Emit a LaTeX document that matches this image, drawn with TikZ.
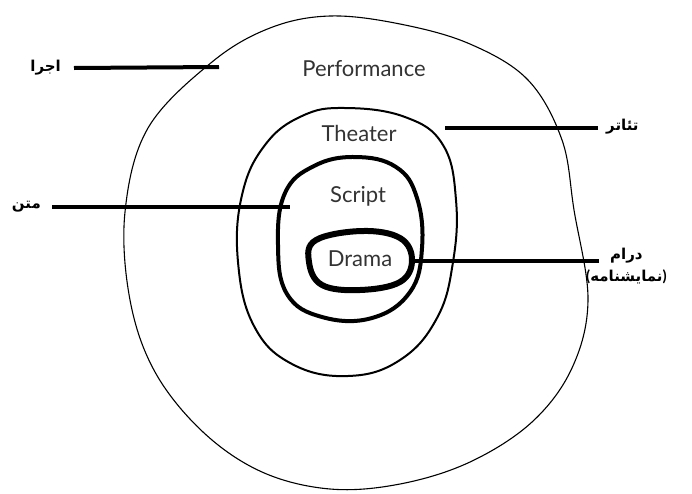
\documentclass[tikz,border=0pt]{standalone}
\usepackage{fontspec}
\setmainfont{Lato}
\newfontfamily\arabicfont[Script=Arabic]{DejaVu Sans}
\TeXXeTstate=1
\begin{document}
\begin{tikzpicture}[x=1pt,y=-1pt,
  ring/.style={draw=black,line cap=round,line join=round},
  lead/.style={draw=black,line width=4pt},
  eng/.style={font=\fontsize{22}{25}\selectfont,text=black!80,inner sep=1pt},
  fa/.style={font=\arabicfont\bfseries\fontsize{15}{18}\selectfont,inner sep=1pt,align=center}]
\useasboundingbox (0,0) rectangle (692,493);
% outer: Performance
\draw[ring,line width=1.1pt] plot[smooth cycle,tension=0.6] coordinates {
 (330,16) (400,24) (470,44) (528,80) (562,140) (574,210) (588,300) (572,368)
 (532,422) (470,462) (400,484) (330,489) (262,472) (203,432) (155,372)
 (130,300) (125,212) (148,128) (212,62) (270,28)};
% Theater
\draw[ring,line width=2pt] plot[smooth cycle,tension=0.7] coordinates {
 (345,108) (405,117) (443,145) (456,200) (453,262) (437,318) (400,360)
 (348,376) (292,364) (254,326) (238,262) (242,195) (265,145) (302,116)};
% Script
\draw[ring,line width=4pt] plot[smooth cycle,tension=0.7] coordinates {
 (355,157) (396,167) (417,198) (422,248) (410,292) (372,318) (322,317)
 (287,294) (278,245) (285,193) (314,166)};
% Drama
\draw[ring,line width=6pt] plot[smooth cycle,tension=0.65] coordinates {
 (362,231) (400,238) (412,260) (400,282) (360,290) (322,285) (309,262) (316,240)};

\node[eng] (perf) at (364,69) {Performance};
\node[eng] (thea) at (359,133) {Theater};
\node[eng] (scr) at (358,196) {Script};
\node[eng] (dra) at (360,259) {Drama};

\coordinate (pA) at (219,67);
\coordinate (tA) at (445,128);
\coordinate (sA) at (290,207);
\coordinate (dA) at (412,261);

\node[fa,anchor=east] (ejra) at (62,68) {\beginR اجرا\endR};
\node[fa,anchor=west] (teatr) at (605,127) {\beginR تئاتر\endR};
\node[fa,anchor=east] (matn) at (42,207) {\beginR متن\endR};
\node[fa,anchor=west] (deram) at (609,256) {\beginR درام\endR};
\node[fa,anchor=north] (namayesh) at ([yshift=-4pt]deram.south) {{\rmfamily\bfseries (}\beginR نمایشنامه\endR{\rmfamily\bfseries )}};

\draw[lead] (ejra.east) ++(12,0) coordinate (e1) -- (pA);
\draw[lead] (teatr.west) ++(-7,1) coordinate (t1) -- (tA);
\draw[lead] (matn.east) ++(10,0) coordinate (m1) -- (sA);
\draw[lead] (deram.west) ++(-10,5) coordinate (d1) -- (dA);
\end{tikzpicture}
\end{document}
